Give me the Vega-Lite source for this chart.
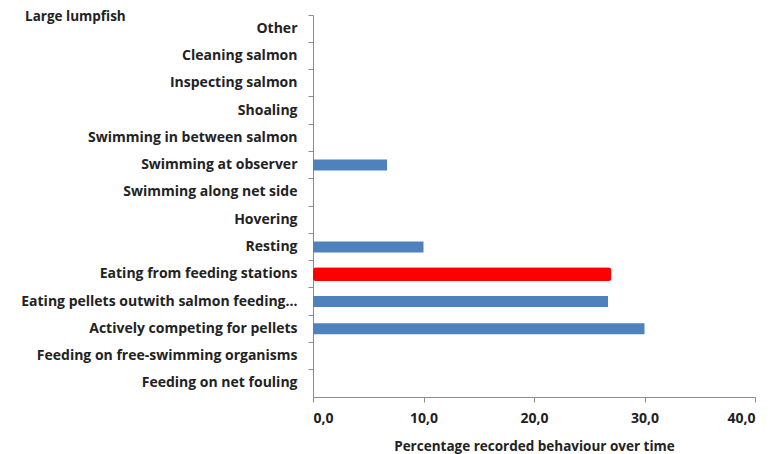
{
  "$schema": "https://vega.github.io/schema/vega-lite/v6.json",
  "width": 442,
  "height": 382,
  "autosize": {"type": "none"},
  "padding": {"left": 313, "top": 15, "right": 24, "bottom": 57},
  "background": "white",
  "title": {
    "text": "Large lumpfish",
    "anchor": "start",
    "frame": "group",
    "orient": "top",
    "offset": 0,
    "dx": -288,
    "dy": 9,
    "font": "Open Sans",
    "fontSize": 13.5,
    "fontWeight": "bold",
    "color": "#222222"
  },
  "data": {
    "values": [
      {"behaviour": "Other", "pct": 0},
      {"behaviour": "Cleaning salmon", "pct": 0},
      {"behaviour": "Inspecting salmon", "pct": 0},
      {"behaviour": "Shoaling", "pct": 0},
      {"behaviour": "Swimming in between salmon", "pct": 0},
      {"behaviour": "Swimming at observer", "pct": 6.7},
      {"behaviour": "Swimming along net side", "pct": 0},
      {"behaviour": "Hovering", "pct": 0},
      {"behaviour": "Resting", "pct": 10.0},
      {"behaviour": "Eating from feeding stations", "pct": 27.0},
      {"behaviour": "Eating pellets outwith salmon feeding…", "pct": 26.7},
      {"behaviour": "Actively competing for pellets", "pct": 30.0},
      {"behaviour": "Feeding on free-swimming organisms", "pct": 0},
      {"behaviour": "Feeding on net fouling", "pct": 0}
    ]
  },
  "encoding": {
    "y": {
      "field": "behaviour",
      "type": "nominal",
      "sort": null,
      "scale": {
        "domain": ["Other", "Cleaning salmon", "Inspecting salmon", "Shoaling", "Swimming in between salmon", "Swimming at observer", "Swimming along net side", "Hovering", "Resting", "Eating from feeding stations", "Eating pellets outwith salmon feeding…", "Actively competing for pellets", "Feeding on free-swimming organisms", "Feeding on net fouling"],
        "paddingInner": 0,
        "paddingOuter": 0
      },
      "axis": {
        "title": null,
        "bandPosition": 0,
        "domainColor": "#8c8c8c",
        "tickColor": "#8c8c8c",
        "tickSize": 5,
        "labelPadding": 11,
        "labelFont": "Open Sans",
        "labelFontSize": 14,
        "labelFontWeight": "bold",
        "labelColor": "#222222",
        "labelLimit": 400
      }
    },
    "x": {
      "field": "pct",
      "type": "quantitative",
      "scale": {"domain": [0, 40]},
      "axis": {
        "title": "Percentage recorded behaviour over time",
        "values": [0, 10, 20, 30, 40],
        "grid": false,
        "labelExpr": "replace(format(datum.value, '.1f'), '.', ',')",
        "domainColor": "#8c8c8c",
        "tickColor": "#8c8c8c",
        "tickSize": 5,
        "labelPadding": 9,
        "labelFont": "Open Sans",
        "labelFontSize": 14,
        "labelFontWeight": "bold",
        "labelColor": "#222222",
        "titleFont": "Open Sans",
        "titleFontSize": 13.5,
        "titleFontWeight": "bold",
        "titleColor": "#222222",
        "titlePadding": 14
      }
    }
  },
  "layer": [
    {
      "transform": [{"filter": "datum.behaviour !== 'Eating from feeding stations'"}],
      "mark": {"type": "bar", "size": 11, "color": "#4F81BD"}
    },
    {
      "transform": [{"filter": "datum.behaviour === 'Eating from feeding stations'"}],
      "mark": {"type": "bar", "size": 14, "color": "#FF0000", "cornerRadius": 3}
    }
  ],
  "config": {"view": {"stroke": null}}
}
